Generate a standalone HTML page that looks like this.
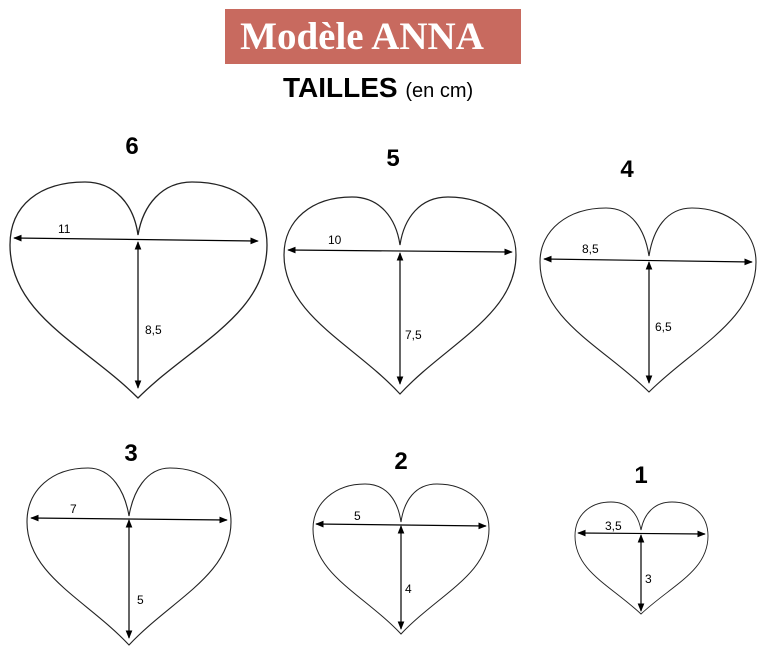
<!DOCTYPE html>
<html><head><meta charset="utf-8"><style>
html,body{margin:0;padding:0;background:#fff;width:769px;height:652px;overflow:hidden}
svg{display:block}
</style></head><body>
<svg width="769" height="652" viewBox="0 0 769 652" xmlns="http://www.w3.org/2000/svg">
<defs>
<marker id="a" viewBox="0 0 10 10" refX="9" refY="5" markerWidth="7" markerHeight="7" orient="auto-start-reverse"><path d="M0,1 L10,5 L0,9 Z" fill="#000"/></marker>
</defs>
<rect x="225" y="9" width="296" height="55" fill="#c86a5f"/>
<text x="362" y="49" text-anchor="middle" font-family="Liberation Serif, serif" font-weight="bold" font-size="39" fill="#fff">Modèle ANNA</text>
<text x="283" y="97" font-family="Liberation Sans, sans-serif" font-weight="bold" font-size="28">TAILLES <tspan font-weight="normal" font-size="20">(en cm)</tspan></text>
<g font-family="Liberation Sans, sans-serif" font-weight="bold" font-size="24" text-anchor="middle">
<text x="132" y="154">6</text><text x="393" y="166">5</text><text x="627" y="177">4</text>
<text x="131" y="461">3</text><text x="401" y="469">2</text><text x="641" y="483">1</text>
</g>
<g fill="none" stroke="#222">
<path d="M138,235 C134,205 115,182 85,182 C40,182 10,205 10,245 C10,315 85,345 138,398 C191,345 267,315 267,245 C267,205 237,182 192,182 C162,182 143,205 138,235 Z" stroke-width="1.3"/>
<path d="M400,245 C396,218 380,197 352,197 C312,197 284,220 284,255 C284,315 355,345 400,394 C445,345 516,315 516,255 C516,220 488,197 448,197 C420,197 404,218 400,245 Z" stroke-width="1.2"/>
<path d="M649,256 C645,230 632,208 606,208 C568,208 540,230 540,262 C540,320 605,348 649,392 C693,348 756,320 756,262 C756,230 728,208 692,208 C666,208 653,230 649,256 Z" stroke-width="1.1"/>
<path d="M129,516 C125,492 112,468 88,468 C52,468 27,490 27,522 C27,575 87,600 129,645 C171,600 231,575 231,522 C231,490 206,468 170,468 C146,468 133,492 129,516 Z" stroke-width="1.1"/>
<path d="M401,522 C398,501 387,484 365,484 C335,484 313,503 313,529 C313,574 363,594 401,634 C439,594 489,574 489,529 C489,503 467,484 437,484 C415,484 404,501 401,522 Z" stroke-width="1"/>
<path d="M641,530 C638,514 629,502 611,502 C590,502 575,515 575,536 C575,571 610,585 641,614 C672,585 708,571 708,536 C708,515 693,502 672,502 C654,502 644,514 641,530 Z" stroke-width="0.9"/>
</g>
<g stroke="#000" stroke-width="1.2" marker-start="url(#a)" marker-end="url(#a)">
<line x1="14" y1="238" x2="258" y2="241"/><line x1="138" y1="242" x2="138" y2="388"/>
<line x1="288" y1="250" x2="512" y2="252"/><line x1="400" y1="253" x2="400" y2="384"/>
<line x1="544" y1="259" x2="752" y2="262"/><line x1="649" y1="262" x2="649" y2="383"/>
<line x1="31" y1="518" x2="227" y2="520"/><line x1="129" y1="520" x2="129" y2="638"/>
<line x1="316" y1="524" x2="486" y2="526"/><line x1="401" y1="526" x2="401" y2="629"/>
<line x1="578" y1="533" x2="705" y2="534"/><line x1="641" y1="535" x2="641" y2="611"/>
</g>
<g font-family="Liberation Sans, sans-serif" font-size="12">
<text x="58" y="233">11</text><text x="145" y="334">8,5</text>
<text x="328" y="244">10</text><text x="405" y="339">7,5</text>
<text x="582" y="253">8,5</text><text x="655" y="331">6,5</text>
<text x="70" y="513">7</text><text x="137" y="604">5</text>
<text x="354" y="520">5</text><text x="405" y="593">4</text>
<text x="605" y="530">3,5</text><text x="645" y="583">3</text>
</g>
</svg>
</body></html>
